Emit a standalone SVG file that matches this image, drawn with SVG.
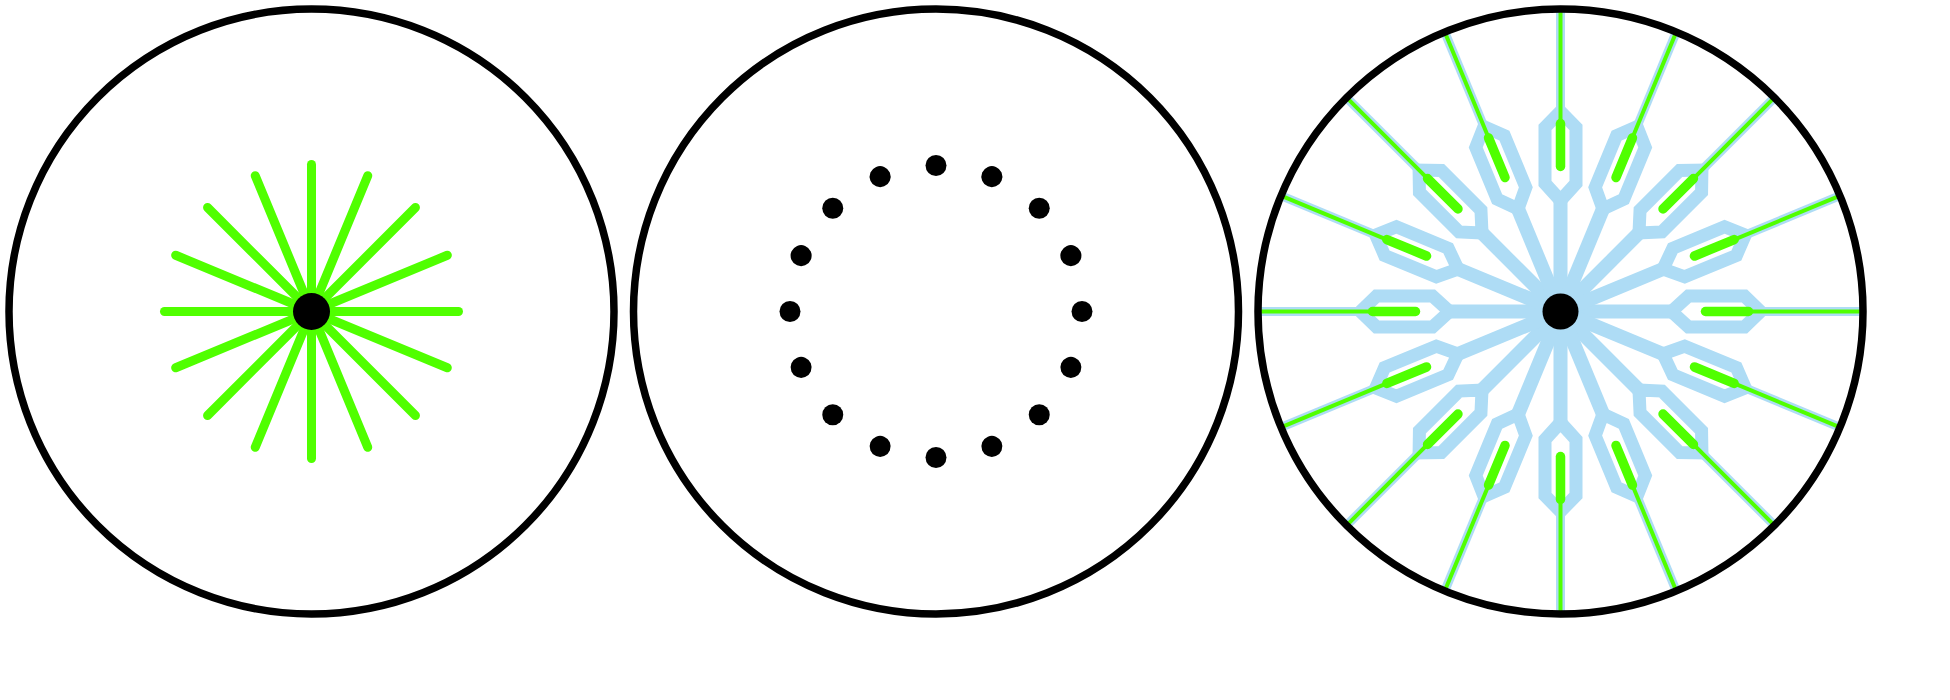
<svg xmlns="http://www.w3.org/2000/svg" xmlns:xlink="http://www.w3.org/1999/xlink" width="1950" height="700" viewBox="0 0 1950 700">
<style>
.ring{fill:none;stroke:#000;stroke-width:7.5}
.ray{stroke:#50ff00;stroke-width:9;stroke-linecap:round}
.b{stroke:#aedcf5;fill:none}
.gT{stroke:#50ff00;stroke-width:9.5;stroke-linecap:round}
.gt{stroke:#50ff00;stroke-width:4}
</style>
<defs>
<line id="ray" class="ray" x1="0" y1="0" x2="147" y2="0"/>
<circle id="pt" cx="146" cy="0" r="10.5" fill="#000"/>
<g id="blue">
<line class="b" x1="0" y1="0" x2="112" y2="0" stroke-width="14"/>
<polygon class="b" points="111,0 128,-15.5 184,-15.5 200,0 184,15.5 128,15.5" stroke-width="13" stroke-linejoin="miter"/>
<line class="b" x1="199" y1="0" x2="302" y2="0" stroke-width="9"/>
</g>
<g id="green">
<line class="gT" x1="145" y1="0" x2="188" y2="0"/>
<line class="gt" x1="188" y1="0" x2="302" y2="0"/>
</g>
</defs>
<rect width="1950" height="700" fill="#fff"/>
<g id="left-wheel" transform="translate(311.5,311.5)">
<use xlink:href="#ray" transform="rotate(0)"/><use xlink:href="#ray" transform="rotate(22.5)"/><use xlink:href="#ray" transform="rotate(45)"/><use xlink:href="#ray" transform="rotate(67.5)"/>
<use xlink:href="#ray" transform="rotate(90)"/><use xlink:href="#ray" transform="rotate(112.5)"/><use xlink:href="#ray" transform="rotate(135)"/><use xlink:href="#ray" transform="rotate(157.5)"/>
<use xlink:href="#ray" transform="rotate(180)"/><use xlink:href="#ray" transform="rotate(202.5)"/><use xlink:href="#ray" transform="rotate(225)"/><use xlink:href="#ray" transform="rotate(247.5)"/>
<use xlink:href="#ray" transform="rotate(270)"/><use xlink:href="#ray" transform="rotate(292.5)"/><use xlink:href="#ray" transform="rotate(315)"/><use xlink:href="#ray" transform="rotate(337.5)"/>
<circle cx="0" cy="0" r="18.5" fill="#000"/>
<circle class="ring" cx="0" cy="0" r="302.5"/>
</g>
<g id="middle-wheel" transform="translate(936,311.5)">
<use xlink:href="#pt" transform="rotate(0)"/><use xlink:href="#pt" transform="rotate(22.5)"/><use xlink:href="#pt" transform="rotate(45)"/><use xlink:href="#pt" transform="rotate(67.5)"/>
<use xlink:href="#pt" transform="rotate(90)"/><use xlink:href="#pt" transform="rotate(112.5)"/><use xlink:href="#pt" transform="rotate(135)"/><use xlink:href="#pt" transform="rotate(157.5)"/>
<use xlink:href="#pt" transform="rotate(180)"/><use xlink:href="#pt" transform="rotate(202.5)"/><use xlink:href="#pt" transform="rotate(225)"/><use xlink:href="#pt" transform="rotate(247.5)"/>
<use xlink:href="#pt" transform="rotate(270)"/><use xlink:href="#pt" transform="rotate(292.5)"/><use xlink:href="#pt" transform="rotate(315)"/><use xlink:href="#pt" transform="rotate(337.5)"/>
<circle class="ring" cx="0" cy="0" r="302.5"/>
</g>
<g id="right-wheel" transform="translate(1560.5,311.5)">
<g id="blue-spokes">
<use xlink:href="#blue" transform="rotate(0)"/><use xlink:href="#blue" transform="rotate(22.5)"/><use xlink:href="#blue" transform="rotate(45)"/><use xlink:href="#blue" transform="rotate(67.5)"/>
<use xlink:href="#blue" transform="rotate(90)"/><use xlink:href="#blue" transform="rotate(112.5)"/><use xlink:href="#blue" transform="rotate(135)"/><use xlink:href="#blue" transform="rotate(157.5)"/>
<use xlink:href="#blue" transform="rotate(180)"/><use xlink:href="#blue" transform="rotate(202.5)"/><use xlink:href="#blue" transform="rotate(225)"/><use xlink:href="#blue" transform="rotate(247.5)"/>
<use xlink:href="#blue" transform="rotate(270)"/><use xlink:href="#blue" transform="rotate(292.5)"/><use xlink:href="#blue" transform="rotate(315)"/><use xlink:href="#blue" transform="rotate(337.5)"/>
</g>
<g id="green-spokes">
<use xlink:href="#green" transform="rotate(0)"/><use xlink:href="#green" transform="rotate(22.5)"/><use xlink:href="#green" transform="rotate(45)"/><use xlink:href="#green" transform="rotate(67.5)"/>
<use xlink:href="#green" transform="rotate(90)"/><use xlink:href="#green" transform="rotate(112.5)"/><use xlink:href="#green" transform="rotate(135)"/><use xlink:href="#green" transform="rotate(157.5)"/>
<use xlink:href="#green" transform="rotate(180)"/><use xlink:href="#green" transform="rotate(202.5)"/><use xlink:href="#green" transform="rotate(225)"/><use xlink:href="#green" transform="rotate(247.5)"/>
<use xlink:href="#green" transform="rotate(270)"/><use xlink:href="#green" transform="rotate(292.5)"/><use xlink:href="#green" transform="rotate(315)"/><use xlink:href="#green" transform="rotate(337.5)"/>
</g>
<circle cx="0" cy="0" r="18" fill="#000"/>
<circle class="ring" cx="0" cy="0" r="302.5"/>
</g>
</svg>
